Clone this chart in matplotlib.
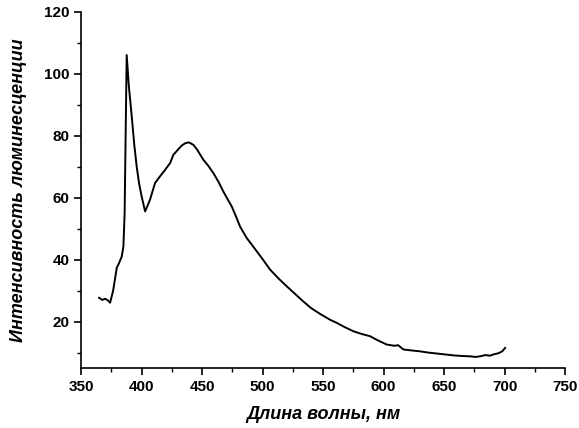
#!/usr/bin/env python3

import numpy as np
import matplotlib.pyplot as plt
from matplotlib.ticker import MultipleLocator

plt.rcParams['font.family'] = ['Liberation Sans', 'DejaVu Sans']

#- Wavelength (nm) and luminescence intensity
wl = [364.9, 367.5, 369.8, 372.0, 374.0, 376.5, 379.5, 381.5, 383.6, 385.0,
      386.0, 387.0, 387.7, 389.5, 391.9, 394.0, 396.0, 398.0, 400.1, 402.9,
      405.0, 407.0, 409.0, 411.2, 415.0, 419.4, 423.6, 426.3, 430.0, 433.0,
      436.0, 439.0, 442.8, 446.0, 451.0, 455.0, 459.3, 463.5, 467.6, 471.0,
      474.5, 478.0, 481.4, 486.9, 491.0, 495.2, 500.0, 506.2, 513.0, 520.0,
      527.0, 533.7, 540.0, 547.5, 555.8, 561.3, 568.0, 575.0, 582.0, 588.8,
      595.0, 602.6, 609.0, 612.0, 616.4, 623.0, 630.2, 637.0, 644.0, 651.0,
      657.7, 665.0, 671.5, 676.0, 679.8, 684.0, 688.0, 690.7, 695.0, 698.0,
      700.4]
inten = [27.7, 27.0, 27.4, 26.9, 26.1, 30.0, 37.4, 39.0, 41.0, 44.3,
         55.0, 85.0, 106.1, 96.0, 86.2, 77.0, 70.0, 64.5, 60.4, 55.6,
         57.5, 59.4, 62.0, 64.8, 66.8, 69.0, 71.2, 73.9, 75.5, 76.8,
         77.6, 77.9, 77.1, 75.5, 72.3, 70.4, 68.0, 65.2, 62.0, 59.6,
         57.2, 54.0, 50.7, 47.0, 44.9, 42.7, 40.2, 36.8, 34.0, 31.4,
         28.9, 26.5, 24.4, 22.5, 20.6, 19.6, 18.2, 16.9, 16.0, 15.3,
         14.0, 12.6, 12.2, 12.4, 11.0, 10.7, 10.4, 10.0, 9.7, 9.4,
         9.1, 8.9, 8.8, 8.6, 8.8, 9.2, 9.0, 9.4, 9.8, 10.4,
         11.5]

fig = plt.figure(figsize=(5.79, 4.28), dpi=100)
ax = fig.add_axes([0.14, 0.14, 0.836, 0.832])
ax.plot(wl, inten, color='black', lw=1.4)

ax.set_xlim(350, 750)
ax.set_ylim(5, 120)
ax.xaxis.set_major_locator(MultipleLocator(50))
ax.xaxis.set_minor_locator(MultipleLocator(25))
ax.yaxis.set_major_locator(MultipleLocator(20))
ax.yaxis.set_minor_locator(MultipleLocator(10))
ax.set_yticks([20, 40, 60, 80, 100, 120])

ax.spines['top'].set_visible(False)
ax.spines['right'].set_visible(False)
for s in ['left', 'bottom']:
    ax.spines[s].set_linewidth(1.2)
ax.tick_params(which='major', direction='out', length=5, width=1.2,
               labelsize=11)
ax.tick_params(which='minor', direction='out', length=3, width=1.0)
for lab in ax.get_xticklabels() + ax.get_yticklabels():
    lab.set_fontweight('bold')

ax.set_xlabel("Длина волны, нм", fontsize=13, fontweight='bold',
              fontstyle='italic', labelpad=9)
ax.set_ylabel("Интенсивность люминесценции", fontsize=13, fontweight='bold',
              fontstyle='italic', labelpad=12)

plt.savefig("out.png", dpi=100)
